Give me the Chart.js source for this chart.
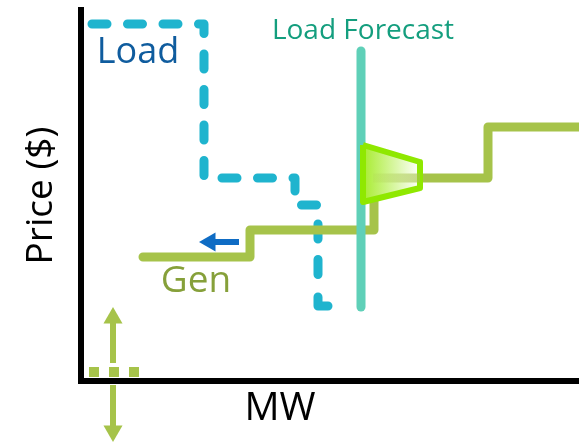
<!DOCTYPE html>
<html>
<head>
<meta charset="utf-8">
<style>
  html, body { margin: 0; padding: 0; background: #fff; }
  #wrap { width: 579px; height: 448px; }
</style>
<script src="https://cdn.jsdelivr.net/npm/chart.js@4/dist/chart.umd.min.js"></script>
</head>
<body>
<div id="wrap"><canvas id="chart"></canvas></div>
<script>
/* Supply / demand sketch: x is MW, y is price. No tick values in the original. */
const loadMW    = [11, 123, 123, 214, 214, 237, 237];
const loadPrice = [357, 357, 203, 203, 176, 176, 90];

// last hook of the load curve, the dash pattern would not land on it
const loadEndMW    = [237, 237, 247];
const loadEndPrice = [84, 75, 75];

const genMW    = [62, 169, 169, 293, 293, 339, 407, 407, 498];
const genPrice = [124, 124, 151, 151, 203, 203, 203, 254, 254];

const forecastMW    = [280, 280];
const forecastPrice = [74, 330];

const unitMW    = [282, 339, 339, 282, 282];
const unitPrice = [236, 219, 193, 179, 236];

const unitLineMW    = [292, 339];
const unitLinePrice = [203, 203];

const shiftMW    = [158, 129];
const shiftPrice = [139, 139];

const marginMW    = [8, 58];
const marginPrice = [9, 9];

const arrowMW    = [32, 32];
const upPrice    = [18, 63];
const downPrice  = [-4, -50];

const toPoints = (xs, ys) => xs.map((x, i) => ({ x, y: ys[i] }));

const GREEN = '#A6C34A';
const TEAL  = '#1FB4CE';
const FONT  = '"Open Sans", "Noto Sans", sans-serif';

/* Free text labels, placed in data units */
const labels = [
  { text: 'Load Forecast', x: 282, y: 350, size: 28, color: '#149E7E' },
  { text: 'Load',          x: 57,  y: 328, size: 36, color: '#0F5C9E' },
  { text: 'Gen',           x: 115, y: 100, size: 37, color: '#86A03A' },
  { text: 'MW',            x: 199, y: -28, size: 39, color: '#000000' },
];

const textPlugin = {
  id: 'textLabels',
  afterDatasetsDraw(chart) {
    const { ctx, scales } = chart;
    ctx.save();
    ctx.textAlign = 'center';
    ctx.textBaseline = 'middle';
    labels.forEach(l => {
      ctx.font = `${l.size}px ${FONT}`;
      ctx.fillStyle = l.color;
      ctx.fillText(l.text, scales.x.getPixelForValue(l.x), scales.y.getPixelForValue(l.y));
    });
    ctx.restore();
    // the controller skips points outside chartArea, the down arrow head is one
    chart.data.datasets.forEach((ds, i) => {
      if (ds.headOutside) chart.getDatasetMeta(i).data[1].draw(ctx);
    });
  },
};

/* Scales have no pixels until the first layout, so fall back to the last stop */
function horizontalGradient(context, stops) {
  const { chart } = context;
  if (!chart.chartArea) return stops[stops.length - 1][1];
  const x = chart.scales.x;
  const g = chart.ctx.createLinearGradient(x.getPixelForValue(282), 0, x.getPixelForValue(339), 0);
  stops.forEach(([at, c]) => g.addColorStop(at, c));
  return g;
}

function pathSet(xs, ys, extra) {
  return Object.assign({
    data: toPoints(xs, ys),
    borderColor: GREEN,
    borderWidth: 9,
    pointRadius: 0,
    tension: 0,
    fill: false,
    clip: false,
  }, extra);
}

/* Arrow: thin line with a triangle point on its last vertex */
function arrowSet(xs, ys, color, rotation, extra) {
  return pathSet(xs, ys, Object.assign({
    borderColor: color,
    borderWidth: 6,
    pointRadius: [0, 11],
    pointStyle: 'triangle',
    pointRotation: rotation,
    pointBackgroundColor: color,
    pointBorderWidth: 0,
    order: 1,
  }, extra));
}

new Chart(document.getElementById('chart'), {
  type: 'line',
  data: {
    datasets: [
      pathSet(loadMW, loadPrice, {
        borderColor: TEAL,
        borderDash: [15, 20.5],
        borderCapStyle: 'round',
        borderJoinStyle: 'round',
        order: 6,
      }),
      pathSet(loadEndMW, loadEndPrice, {
        borderColor: TEAL,
        borderCapStyle: 'round',
        borderJoinStyle: 'round',
        order: 6,
      }),
      pathSet(genMW, genPrice, {
        borderCapStyle: 'round',
        borderJoinStyle: 'round',
        order: 5,
      }),
      pathSet(forecastMW, forecastPrice, {
        borderColor: '#5FD0B8',
        borderCapStyle: 'round',
        order: 4,
      }),
      pathSet(unitMW, unitPrice, {
        borderColor: '#8FE800',
        borderWidth: 6,
        borderJoinStyle: 'round',
        fill: 'shape',
        backgroundColor: ctx => horizontalGradient(ctx, [[0, '#A8EC30'], [1, '#FFFFFF']]),
        order: 3,
      }),
      pathSet(unitLineMW, unitLinePrice, {
        borderColor: ctx => horizontalGradient(ctx, [[0, 'rgba(166,195,74,0)'], [1, 'rgba(166,195,74,0.65)']]),
        order: 2,
      }),
      arrowSet(shiftMW, shiftPrice, '#0F6CC4', -90),
      pathSet(marginMW, marginPrice, { borderWidth: 10, borderDash: [10, 10], order: 1 }),
      arrowSet(arrowMW, upPrice, GREEN, 0),
      arrowSet(arrowMW, downPrice, GREEN, 180, { headOutside: true }),
    ],
  },
  options: {
    responsive: true,
    maintainAspectRatio: false,
    animation: false,
    layout: { autoPadding: false, padding: { top: 10, right: 0, left: 0, bottom: 0 } },
    plugins: { legend: { display: false }, tooltip: { enabled: false } },
    scales: {
      x: {
        type: 'linear',
        min: 0,
        max: 498,
        grid: { display: false },
        ticks: { display: false },
        border: { color: '#000', width: 6 },
        afterFit: s => { s.height = 67; },
      },
      y: {
        type: 'linear',
        min: 0,
        max: 371,
        grid: { display: false },
        ticks: { display: false },
        border: { color: '#000', width: 6 },
        title: {
          display: true,
          text: 'Price ($)',
          color: '#000',
          font: { family: FONT, size: 37 },
          padding: { top: 19, bottom: 0 },
        },
        afterFit: s => { s.width = 81; },
      },
    },
  },
  plugins: [textPlugin],
});
</script>
</body>
</html>
